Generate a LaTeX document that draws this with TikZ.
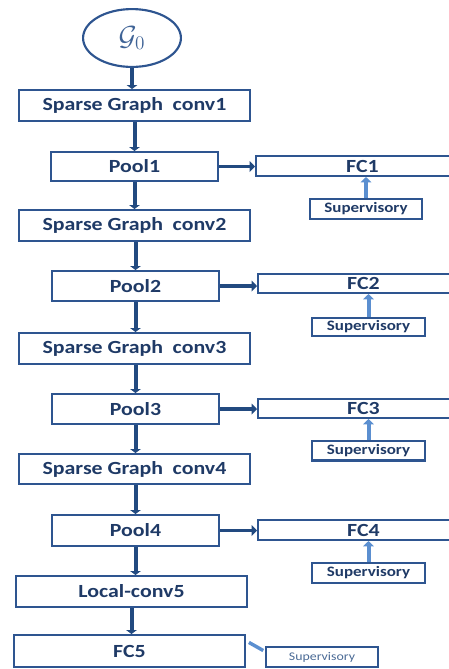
\documentclass[tikz,border=0pt]{standalone}
\usepackage{fontspec}
\newfontfamily\dfont[FakeStretch=1.18]{Carlito}
\usetikzlibrary{arrows.meta,calc,shapes.geometric}
\definecolor{bord}{HTML}{2E5590}
\definecolor{txt}{HTML}{1F3A66}
\definecolor{arr}{HTML}{224A80}
\definecolor{lite}{HTML}{5B8FD0}
\definecolor{gtxt}{HTML}{3F6396}
\definecolor{s5txt}{HTML}{4A6A95}
\begin{document}
\begin{tikzpicture}[x=0.75pt,y=-0.75pt,
  sz/.style 2 args={minimum width=#1*0.75pt-1.6pt, minimum height=#2*0.75pt-1.6pt},
  box/.style={draw=bord, line width=1.6pt, text=txt, inner sep=0pt,
    font=\dfont\bfseries\fontsize{13.9}{15}\selectfont},
  supbox/.style={box, font=\dfont\bfseries\fontsize{10.8}{12}\selectfont},
  sup5box/.style={box, text=s5txt, font=\dfont\fontsize{8.8}{10}\selectfont},
  flow/.style={draw=arr, line width=3pt, -{Triangle[length=3pt,width=8pt]}},
  side/.style={draw=arr, line width=2.6pt, -{Triangle[length=4pt,width=8pt]}},
  supar/.style={draw=lite, line width=3pt, -{Triangle[length=4pt,width=8pt]}},
  ell/.style={ellipse, draw=bord, line width=1.6pt, inner sep=0pt,
    minimum width=100*0.75pt-1.6pt, minimum height=60*0.75pt-1.6pt, text=gtxt}
]
\clip (0,0) rectangle (449,669);
\node[ell] (g0) at (132,38) {\fontsize{22}{24}\selectfont$\mathcal{G}_0$};
\node[box, sz={233}{33}] (sg1) at (134.5,105.5) {Sparse Graph\hspace{0.25em} conv1};
\node[box, sz={169}{31}] (p1) at (134.5,166.5) {Pool1};
\node[box, sz={215}{22}] (fc1) at (362.5,166) {FC1};
\node[supbox, sz={114}{22}] (s1) at (366,209) {Supervisory};
\node[box, sz={233}{33}] (sg2) at (134.5,225.5) {Sparse Graph\hspace{0.25em} conv2};
\node[box, sz={169}{32}] (p2) at (135.5,286) {Pool2};
\node[box, sz={213}{21}] (fc2) at (363.5,283.5) {FC2};
\node[supbox, sz={115}{20}] (s2) at (368.5,327) {Supervisory};
\node[box, sz={233}{33}] (sg3) at (134.5,348.5) {Sparse Graph\hspace{0.25em} conv3};
\node[box, sz={169}{32}] (p3) at (135.5,409) {Pool3};
\node[box, sz={213}{21}] (fc3) at (363.5,408.5) {FC3};
\node[supbox, sz={115}{22}] (s3) at (368.5,450.5) {Supervisory};
\node[box, sz={233}{32}] (sg4) at (134.5,469) {Sparse Graph\hspace{0.25em} conv4};
\node[box, sz={169}{33}] (p4) at (135.5,530.5) {Pool4};
\node[box, sz={213}{22}] (fc4) at (363.5,530) {FC4};
\node[supbox, sz={115}{22}] (s4) at (368.5,573) {Supervisory};
\node[box, sz={233}{33}] (lc5) at (131.5,591.5) {Local-conv5};
\node[box, sz={233}{34}] (fc5) at (129.5,651) {FC5};
\node[sup5box, sz={114}{22}] (s5) at (322,657) {Supervisory};
% main flow
\draw[flow] (g0.south) -- (g0.south |- sg1.north);
\draw[flow] (sg1.south -| p1.north) -- (p1.north);
\draw[flow] (p1.south) -- (p1.south |- sg2.north);
\draw[flow] (sg2.south -| p2.north) -- (p2.north);
\draw[flow] (p2.south) -- (p2.south |- sg3.north);
\draw[flow] (sg3.south -| p3.north) -- (p3.north);
\draw[flow] (p3.south) -- (p3.south |- sg4.north);
\draw[flow] (sg4.south -| p4.north) -- (p4.north);
\draw[flow] (p4.south) -- (p4.south |- lc5.north);
\draw[flow] (lc5.south) -- (lc5.south |- fc5.north);
% side branches
\draw[side] (p1.east) -- (p1.east -| fc1.west);
\draw[side] (p2.east) -- (p2.east -| fc2.west);
\draw[side] (p3.east) -- (p3.east -| fc3.west);
\draw[side] (p4.east) -- (p4.east -| fc4.west);
\draw[supar] (s1.north) -- (s1.north |- fc1.south);
\draw[supar] (s2.north) -- (s2.north |- fc2.south);
\draw[supar] (s3.north) -- (s3.north |- fc3.south);
\draw[supar] (s4.north) -- (s4.north |- fc4.south);
\draw[draw=lite, line width=2.6pt, shorten <=2.5pt, shorten >=1.5pt]
  ($(fc5.north east)!0.2!(fc5.south east)$) -- ($(s5.north west)!0.25!(s5.south west)$);
\end{tikzpicture}
\end{document}
